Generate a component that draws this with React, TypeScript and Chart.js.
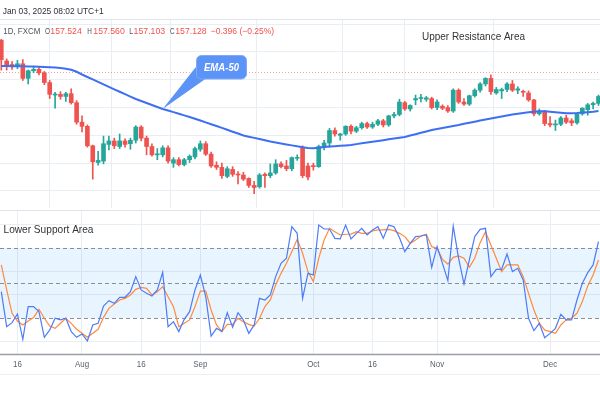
import React, { useEffect, useRef } from "react";
import { Chart, registerables } from "chart.js";

Chart.register(...registerables);

const FONT = "'Liberation Sans', Arial, sans-serif";

const DATES = [
  "Jul 11","Jul 12","Jul 15","Jul 16","Jul 17","Jul 18","Jul 19","Jul 22","Jul 23","Jul 24","Jul 25","Jul 26","Jul 29","Jul 30","Jul 31",
  "Aug 1","Aug 2","Aug 5","Aug 6","Aug 7","Aug 8","Aug 9","Aug 12","Aug 13","Aug 14","Aug 15","Aug 16","Aug 19","Aug 20","Aug 21","Aug 22","Aug 23","Aug 26","Aug 27","Aug 28","Aug 29","Aug 30",
  "Sep 2","Sep 3","Sep 4","Sep 5","Sep 6","Sep 9","Sep 10","Sep 11","Sep 12","Sep 13","Sep 16","Sep 17","Sep 18","Sep 19","Sep 20","Sep 23","Sep 24","Sep 25","Sep 26","Sep 27","Sep 30",
  "Oct 1","Oct 2","Oct 3","Oct 4","Oct 7","Oct 8","Oct 9","Oct 10","Oct 11","Oct 14","Oct 15","Oct 16","Oct 17","Oct 18","Oct 21","Oct 22","Oct 23","Oct 24","Oct 25","Oct 28","Oct 29","Oct 30","Oct 31",
  "Nov 1","Nov 4","Nov 5","Nov 6","Nov 7","Nov 8","Nov 11","Nov 12","Nov 13","Nov 14","Nov 15","Nov 18","Nov 19","Nov 20","Nov 21","Nov 22","Nov 25","Nov 26","Nov 27","Nov 28","Nov 29",
  "Dec 2","Dec 3","Dec 4","Dec 5","Dec 6","Dec 9","Dec 10","Dec 11","Dec 12","Dec 13",
];

const OPEN = [
  161.7,158.7,158.2,157.9,158.3,156.2,157.3,157.5,157.0,155.6,153.8,153.9,153.6,154.0,152.7,
  149.9,149.3,146.5,144.1,144.3,146.7,147.2,146.4,147.2,146.8,147.3,149.2,147.6,146.4,145.2,145.2,146.2,144.0,144.5,143.8,144.5,144.9,
  146.0,146.8,145.3,143.7,143.4,142.1,143.1,142.4,142.3,141.8,140.8,140.6,142.4,142.2,142.6,143.9,143.6,143.2,144.7,146.2,143.6,
  143.6,143.5,146.3,146.9,148.7,148.0,148.2,149.3,148.6,149.1,149.7,149.2,149.6,150.1,149.5,150.8,151.0,152.7,151.8,153.1,153.3,153.2,153.3,
  152.0,152.2,152.0,151.5,154.5,152.8,152.5,153.7,154.5,155.4,156.2,154.1,154.4,154.6,155.4,154.5,154.3,154.1,153.1,151.1,151.5,
  149.7,149.5,149.6,150.5,150.1,149.8,151.1,151.7,152.4,152.6,
];
const HIGH = [
  161.8,159.0,158.6,158.8,158.9,157.4,157.9,157.8,157.2,155.9,154.2,154.3,154.2,154.7,153.0,
  150.8,149.5,146.6,145.7,147.9,147.9,147.6,148.2,147.5,147.6,149.4,149.4,147.9,146.8,146.1,146.5,146.5,144.8,144.8,144.7,145.2,146.3,
  147.2,147.1,145.6,144.2,144.0,143.5,143.5,142.8,142.7,141.9,141.4,142.5,142.6,143.9,144.5,144.2,144.4,144.9,145.2,146.5,144.0,
  144.0,146.6,147.3,149.0,149.1,148.3,149.4,149.5,149.3,149.9,149.9,149.9,150.3,150.3,150.9,151.3,153.2,152.9,152.4,153.8,153.9,153.6,153.5,
  153.1,152.4,152.3,154.7,154.7,153.3,153.8,154.7,155.6,156.3,156.7,154.9,154.8,155.6,155.9,155.0,154.5,154.4,153.2,151.8,151.6,
  150.7,150.2,150.7,150.9,150.4,151.2,152.0,152.6,152.8,153.8,
];
const LOW = [
  157.4,157.4,157.5,157.6,155.9,155.4,157.0,156.7,155.3,153.3,151.9,153.2,152.9,152.5,149.6,
  148.5,146.3,141.7,143.7,143.9,145.9,146.1,146.1,146.3,146.0,146.9,147.2,145.2,145.0,144.5,144.9,144.0,143.4,143.6,143.6,144.1,144.6,
  145.7,145.1,143.4,143.1,141.8,141.9,142.1,141.0,141.5,140.5,139.6,140.4,140.5,141.9,142.4,143.3,142.9,142.9,144.4,141.9,141.6,
  143.0,143.4,145.9,146.3,147.9,147.3,148.0,148.2,148.4,148.9,149.0,149.0,149.4,149.2,149.3,150.5,150.8,151.6,151.5,152.4,152.8,152.9,151.8,
  151.7,151.7,151.3,151.3,152.6,152.3,152.3,153.5,154.2,155.1,153.9,153.9,153.3,154.3,154.3,154.0,153.6,152.9,150.8,150.9,149.4,
  149.2,148.7,149.4,149.7,149.4,149.6,150.9,150.9,151.8,152.3,
];
const CLOSE = [
  158.9,157.9,157.9,158.3,156.2,157.3,157.5,157.0,155.6,153.9,153.9,153.6,154.0,152.7,149.9,
  149.3,146.5,144.2,144.4,146.8,147.2,146.5,147.2,146.7,147.3,149.2,147.6,146.4,145.2,145.3,146.2,144.3,144.5,143.8,144.5,145.0,146.1,
  146.8,145.3,143.6,143.4,142.2,143.2,142.4,142.3,141.7,140.8,140.5,142.3,142.2,142.6,143.9,143.5,143.2,144.8,144.8,142.2,142.0,
  143.5,146.4,146.9,148.7,148.2,148.2,149.3,148.6,149.1,149.7,149.2,149.6,150.1,149.5,150.8,151.0,152.8,151.8,152.3,153.3,153.4,153.4,152.0,
  152.8,151.9,151.5,154.5,152.8,152.5,153.7,154.5,155.4,156.2,154.3,154.6,154.6,155.4,154.5,154.7,154.2,153.1,151.1,151.5,149.7,
  149.5,149.6,150.5,149.9,149.8,151.1,151.9,152.4,152.6,153.6,
];

const EMA50 = [
  157.99,157.98,157.96,157.95,157.93,157.92,157.90,157.88,157.85,157.81,157.77,157.70,157.60,157.45,157.15,
  156.76,156.40,156.05,155.70,155.33,154.97,154.63,154.28,153.93,153.58,153.24,152.95,152.66,152.37,152.09,151.80,151.57,151.34,151.11,150.88,150.65,150.39,
  150.13,149.87,149.61,149.35,149.08,148.80,148.53,148.26,147.99,147.81,147.64,147.47,147.29,147.12,146.98,146.84,146.70,146.56,146.42,146.30,146.18,
  146.15,146.22,146.33,146.40,146.45,146.50,146.56,146.62,146.74,146.86,146.97,147.09,147.20,147.31,147.43,147.54,147.66,147.77,147.97,148.17,148.37,148.57,148.78,
  148.92,149.07,149.21,149.36,149.50,149.66,149.82,149.97,150.13,150.29,150.43,150.58,150.72,150.87,151.01,151.11,151.21,151.31,151.40,151.48,151.46,
  151.40,151.33,151.26,151.20,151.20,151.22,151.28,151.34,151.40,151.51,
];

const STOCH_K = [
  42.5,12.5,16.0,23.4,1.7,29.7,29.7,25.4,3.4,9.7,19.7,18.3,19.7,8.3,3.4,
  6.3,0.3,14.0,15.4,30.2,34.8,32.5,37.7,37.7,42.5,55.4,44.0,41.1,38.8,44.0,59.1,12.5,16.8,8.3,18.8,25.4,44.0,
  56.8,38.2,4.5,11.1,8.3,24.5,12.0,24.5,18.3,6.8,14.0,36.8,35.4,39.7,55.4,66.8,71.1,98.2,92.5,36.8,58.2,
  56.8,99.6,96.2,96.2,88.2,87.7,99.6,87.7,92.5,96.8,91.1,95.4,98.2,88.2,99.6,98.2,89.0,76.8,83.9,89.7,90.2,91.1,63.4,
  81.1,66.8,52.0,98.8,71.1,49.1,69.7,89.7,95.9,96.8,55.4,61.7,61.7,74.8,59.7,62.5,52.5,19.7,9.1,15.4,3.1,
  6.8,11.1,23.1,18.3,18.3,35.4,49.7,58.8,65.4,85.4,
];
const STOCH_D = [
  65.4,44.0,24.0,17.4,14.0,17.4,20.3,27.4,19.7,13.1,11.1,15.4,19.7,15.4,10.3,
  6.8,3.4,6.8,10.3,20.5,28.2,32.0,35.4,36.8,39.7,44.5,46.2,45.4,39.7,42.5,46.8,38.2,29.7,12.5,15.4,18.3,29.7,
  43.0,43.0,26.8,14.0,8.3,14.5,14.5,19.7,16.8,14.5,13.1,19.7,29.7,35.4,48.2,58.2,66.8,76.8,87.4,75.4,59.7,
  51.1,71.1,86.8,96.8,93.9,91.1,91.7,91.9,93.9,92.5,92.5,94.5,95.4,95.4,95.9,94.8,92.5,89.7,83.9,86.8,90.2,91.7,81.1,
  79.7,70.2,66.2,71.9,73.1,71.1,63.4,71.1,84.5,93.9,82.5,71.1,59.7,65.4,65.4,65.4,55.4,41.1,26.8,15.4,9.7,
  8.3,6.8,14.0,18.3,19.7,24.0,34.0,47.4,56.8,69.7,
];

const TICK_LABELS: Record<string, string> = {
  "Jul 16": "16", "Aug 1": "Aug", "Aug 16": "16", "Sep 2": "Sep",
  "Oct 1": "Oct", "Oct 16": "16", "Nov 1": "Nov", "Dec 2": "Dec",
};
const PRICE_GRID = [140, 144, 148, 152, 156, 160, 164];
const STOCH_GRID = [0, 40, 60, 100];
const STOCH_LEVELS = [80, 50, 20];
const STOCH_BAND = [20, 80];
const LAST_PRICE = 157.128;
const HEADER = "Jan 03, 2025 08:02 UTC+1";
const SYMBOL = "1D, FXCM";
const OHLC_LABELS = ["O", "H", "L", "C"];
const OHLC_VALUES = ["157.524", "157.560", "157.103", "157.128"];
const CHANGE = "\u22120.396 (\u22120.25%)";
const EMA_LABEL = "EMA-50";
const EMA_ANCHOR = "Aug 22";
const UPPER_TEXT = "Upper Resistance Area";
const LOWER_TEXT = "Lower Support Area";

const X_MIN = -0.24;
const X_MAX = 111.28;
const PRICE_MIN = 137.55;
const PRICE_MAX = 164.6;
const STOCH_MIN = -10.9;
const STOCH_MAX = 112.5;

const UP = "#26a69a";
const DOWN = "#ef5350";
const GRID = "#e9eef5";

function txt(ctx: CanvasRenderingContext2D, s: string, x: number, y: number, font: string, color: string, maxW?: number, align: CanvasTextAlign = "left") {
  ctx.save();
  ctx.font = font;
  ctx.fillStyle = color;
  ctx.textAlign = align;
  ctx.textBaseline = "alphabetic";
  if (maxW) ctx.fillText(s, x, y, maxW);
  else ctx.fillText(s, x, y);
  ctx.restore();
}

export default function App() {
  const priceRef = useRef<HTMLCanvasElement>(null);
  const stochRef = useRef<HTMLCanvasElement>(null);

  useEffect(() => {
    Chart.defaults.font.family = FONT;
    const idx = DATES.map((_, i) => i);
    const tickIdx = Object.keys(TICK_LABELS).map((d) => DATES.indexOf(d));
    const colors = idx.map((i) => (CLOSE[i] >= OPEN[i] ? UP : DOWN));

    const makeX = (h: number) => ({
      type: "linear" as const,
      min: X_MIN,
      max: X_MAX,
      offset: false,
      afterBuildTicks: (s: any) => {
        s.ticks = tickIdx.map((v) => ({ value: v }));
      },
      ticks: { display: false },
      grid: { color: GRID, drawTicks: false },
      border: { display: false },
      afterFit: (s: any) => {
        s.height = h;
      },
    });

    const makeY = (min: number, max: number, grid: number[]) => ({
      type: "linear" as const,
      min,
      max,
      afterBuildTicks: (s: any) => {
        s.ticks = grid.map((v) => ({ value: v }));
      },
      ticks: { display: false },
      grid: { color: GRID, drawTicks: false },
      border: { display: false },
      afterFit: (s: any) => {
        s.width = 0;
      },
    });

    const pricePlugin = {
      id: "priceDecor",
      beforeDatasetsDraw(chart: any) {
        const { ctx, chartArea, scales } = chart;
        const y = scales.y.getPixelForValue(LAST_PRICE);
        ctx.save();
        ctx.strokeStyle = "rgba(239,83,80,0.55)";
        ctx.lineWidth = 1;
        ctx.setLineDash([1, 2]);
        ctx.beginPath();
        ctx.moveTo(chartArea.left, Math.round(y) + 0.5);
        ctx.lineTo(chartArea.right, Math.round(y) + 0.5);
        ctx.stroke();
        ctx.restore();
      },
      afterDraw(chart: any) {
        const { ctx, scales } = chart;
        ctx.save();
        ctx.fillStyle = "#fff";
        ctx.fillRect(0, 0, 600, 19);
        ctx.strokeStyle = "#e0e3eb";
        ctx.lineWidth = 1;
        ctx.beginPath();
        ctx.moveTo(0, 19.5);
        ctx.lineTo(600, 19.5);
        ctx.stroke();
        ctx.restore();
        txt(ctx, HEADER, 2.7, 14, `9.5px ${FONT}`, "#2a2e39", 101);
        const f = `9px ${FONT}`;
        const gray = "#50535e";
        txt(ctx, SYMBOL, 3.3, 34, f, gray, 37);
        const lx = [45, 87.3, 129.3, 170];
        const lw = [5, 4.6, 3.8, 4.6];
        const vx = [50.3, 93.3, 133.6, 175.2];
        OHLC_LABELS.forEach((l, i) => {
          txt(ctx, l, lx[i], 34, f, gray, lw[i]);
          txt(ctx, OHLC_VALUES[i], vx[i], 34, f, DOWN, 31.5);
        });
        txt(ctx, CHANGE, 210.7, 34, f, DOWN, 63.5);
        txt(ctx, UPPER_TEXT, 422, 39.5, `10.5px ${FONT}`, "#333", 103);
        // EMA callout
        const ai = DATES.indexOf(EMA_ANCHOR);
        const ax = scales.x.getPixelForValue(ai);
        const ay = scales.y.getPixelForValue(EMA50[ai]);
        ctx.save();
        ctx.fillStyle = "#5b93f7";
        ctx.strokeStyle = "#7eaaf8";
        ctx.lineWidth = 1;
        ctx.beginPath();
        ctx.moveTo(197.5, 65);
        ctx.lineTo(206, 78.5);
        ctx.lineTo(ax, ay);
        ctx.closePath();
        ctx.fill();
        ctx.beginPath();
        (ctx as any).roundRect(196.5, 55.5, 50, 23.5, 5);
        ctx.fill();
        ctx.stroke();
        ctx.restore();
        txt(ctx, EMA_LABEL, 221.5, 71, `italic bold 10px ${FONT}`, "#ffffff", 35, "center");
      },
    };

    const priceChart = new Chart(priceRef.current!, {
      type: "bar",
      data: {
        datasets: [
          {
            type: "bar",
            data: idx.map((i) => ({ x: i, y: [LOW[i], HIGH[i]] })) as any,
            backgroundColor: colors,
            barThickness: 1,
            grouped: false,
            order: 3,
          } as any,
          {
            type: "bar",
            data: idx.map((i) => ({ x: i, y: [OPEN[i], CLOSE[i]] })) as any,
            backgroundColor: colors,
            barThickness: 4,
            minBarLength: 1,
            grouped: false,
            order: 2,
          } as any,
          {
            type: "line",
            data: idx.map((i) => ({ x: i, y: EMA50[i] })) as any,
            borderColor: "#3d6ff2",
            borderWidth: 2,
            pointRadius: 0,
            tension: 0,
            order: 1,
          } as any,
        ],
      },
      options: {
        animation: false,
        responsive: false,
        events: [],
        layout: { padding: { top: 20, left: 0, right: 0, bottom: 0 } },
        plugins: { legend: { display: false }, tooltip: { enabled: false } },
        scales: {
          x: makeX(0) as any,
          y: makeY(PRICE_MIN, PRICE_MAX, PRICE_GRID) as any,
        },
      },
      plugins: [pricePlugin],
    });

    const stochPlugin = {
      id: "stochDecor",
      beforeDatasetsDraw(chart: any) {
        const { ctx, chartArea, scales } = chart;
        const y = scales.y;
        ctx.save();
        const yTop = y.getPixelForValue(STOCH_BAND[1]);
        const yBot = y.getPixelForValue(STOCH_BAND[0]);
        ctx.fillStyle = "rgba(33,150,243,0.1)";
        ctx.fillRect(chartArea.left, yTop, chartArea.right - chartArea.left, yBot - yTop);
        ctx.strokeStyle = "#8a8d96";
        ctx.lineWidth = 1;
        ctx.setLineDash([4, 3]);
        STOCH_LEVELS.forEach((v) => {
          const p = Math.round(y.getPixelForValue(v)) + 0.5;
          ctx.beginPath();
          ctx.moveTo(chartArea.left, p);
          ctx.lineTo(chartArea.right, p);
          ctx.stroke();
        });
        ctx.restore();
      },
      afterDraw(chart: any) {
        const { ctx, chartArea, scales } = chart;
        ctx.save();
        ctx.strokeStyle = "#e0e3eb";
        ctx.lineWidth = 1;
        ctx.beginPath();
        ctx.moveTo(0, 2.5);
        ctx.lineTo(600, 2.5);
        ctx.stroke();
        ctx.strokeStyle = "#9b9ea6";
        ctx.lineWidth = 1.4;
        ctx.beginPath();
        ctx.moveTo(0, chartArea.bottom + 0.5);
        ctx.lineTo(600, chartArea.bottom + 0.5);
        ctx.stroke();
        ctx.strokeStyle = "#eceef2";
        ctx.lineWidth = 1;
        ctx.beginPath();
        ctx.moveTo(0, chart.height - 0.5);
        ctx.lineTo(600, chart.height - 0.5);
        ctx.stroke();
        ctx.restore();
        txt(ctx, LOWER_TEXT, 3.5, 25.3, `10.5px ${FONT}`, "#333", 90);
        const f = `9px ${FONT}`;
        Object.keys(TICK_LABELS).forEach((d) => {
          const label = TICK_LABELS[d];
          const px = scales.x.getPixelForValue(DATES.indexOf(d));
          ctx.save();
          ctx.font = f;
          const w = ctx.measureText(label).width * 0.88;
          ctx.restore();
          txt(ctx, label, px, chartArea.bottom + 13.3, f, "#5d606b", w, "center");
        });
      },
    };

    const stochChart = new Chart(stochRef.current!, {
      type: "line",
      data: {
        datasets: [
          {
            data: idx.map((i) => ({ x: i, y: STOCH_K[i] })) as any,
            borderColor: "#4e7bf6",
            borderWidth: 1.2,
            pointRadius: 0,
            tension: 0,
          },
          {
            data: idx.map((i) => ({ x: i, y: STOCH_D[i] })) as any,
            borderColor: "#ff8a3d",
            borderWidth: 1.2,
            pointRadius: 0,
            tension: 0,
          },
        ],
      },
      options: {
        animation: false,
        responsive: false,
        events: [],
        layout: { padding: { top: 2, left: 0, right: 0, bottom: 0 } },
        plugins: { legend: { display: false }, tooltip: { enabled: false } },
        scales: {
          x: makeX(21) as any,
          y: makeY(STOCH_MIN, STOCH_MAX, STOCH_GRID) as any,
        },
      },
      plugins: [stochPlugin],
    });

    return () => {
      priceChart.destroy();
      stochChart.destroy();
    };
  }, []);

  return (
    <div style={{ position: "fixed", left: 0, top: 0, width: 600, height: 400, background: "#ffffff", overflow: "hidden" }}>
      <canvas ref={priceRef} width={600} height={208} style={{ position: "absolute", left: 0, top: 0, width: 600, height: 208 }} />
      <canvas ref={stochRef} width={600} height={167} style={{ position: "absolute", left: 0, top: 208, width: 600, height: 167 }} />
    </div>
  );
}
